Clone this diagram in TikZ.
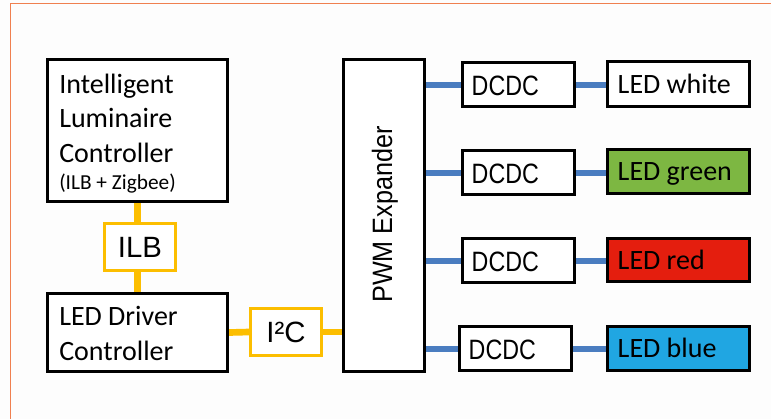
\documentclass[tikz,border=0pt]{standalone}
\usepackage{fontspec}
\usepackage{graphicx}
\setmainfont{Carlito}
\newfontfamily\arialf{Liberation Sans}
\usetikzlibrary{fit,calc,backgrounds}
\definecolor{frameor}{RGB}{240,128,80}
\definecolor{busor}{RGB}{252,190,0}
\definecolor{busbl}{RGB}{74,125,192}
\definecolor{ledgreen}{RGB}{125,183,66}
\definecolor{ledred}{RGB}{228,30,14}
\definecolor{ledblue}{RGB}{32,166,226}
\definecolor{bgc}{RGB}{253,253,253}
\tikzset{
  blk/.style={draw=black, line width=2.3pt, fill=white, inner sep=0pt},
  oblk/.style={draw=busor, line width=2.3pt, fill=white, inner sep=0pt},
  obus/.style={draw=busor, line width=5pt},
  bbus/.style={draw=busbl, line width=4.5pt},
  cal/.style={font=\fontsize{21}{25}\selectfont, inner sep=0pt},
  calsm/.style={font=\fontsize{16}{19}\selectfont, inner sep=0pt},
  ari/.style={font=\arialf\fontsize{22}{26}\selectfont, inner sep=0pt},
}
\begin{document}
\begin{tikzpicture}[x=0.75pt,y=-0.75pt]
\useasboundingbox (0,0) rectangle (771,419);
\begin{pgfonlayer}{background}
\fill[bgc] (0,0) rectangle (771,419);
\draw[frameor, line width=0.9pt] (771,3.5) -- (10.5,3.5) -- (10.5,419);
\end{pgfonlayer}

% boxes
\node[blk, fit={(47.5,59.5)(227.5,201.5)}] (ilc) {};
\node[oblk, fit={(104.5,223.5)(175.5,270.5)}] (ilb) {};
\node[blk, fit={(47.5,293.5)(227.5,371.5)}] (drv) {};
\node[oblk, fit={(250.5,308.5)(321.5,355.5)}] (i2c) {};
\node[blk, fit={(343.5,59.5)(424.5,371.5)}] (pwm) {};
\node[blk, fit={(462.5,62.5)(574.5,106.5)}] (dc1) {};
\node[blk, fit={(462.5,150.5)(574.5,194.5)}] (dc2) {};
\node[blk, fit={(462.5,238.5)(574.5,282.5)}] (dc3) {};
\node[blk, fit={(459.5,326.5)(571.5,370.5)}] (dc4) {};
\node[blk, fit={(607.5,61.5)(749.5,106.5)}] (led1) {};
\node[blk, fill=ledgreen, fit={(607.5,149.5)(749.5,193.5)}] (led2) {};
\node[blk, fill=ledred, fit={(607.5,238.5)(749.5,281.5)}] (led3) {};
\node[blk, fill=ledblue, fit={(607.5,326.5)(749.5,370.5)}] (led4) {};

% connectors
\begin{pgfonlayer}{background}
\draw[obus] (ilc.south) -- (ilc.south |- ilb.north);
\draw[obus] (ilb.south -| ilc.south) -- (ilc.south |- drv.north);
\draw[obus] (drv.east) -- (i2c.west);
\draw[obus] (i2c.east) -- (i2c.east -| pwm.west);
\draw[bbus] (dc1.west -| pwm.east) -- (dc1.west);
\draw[bbus] (dc2.west -| pwm.east) -- (dc2.west);
\draw[bbus] (dc3.west -| pwm.east) -- (dc3.west);
\draw[bbus] (dc4.west -| pwm.east) -- (dc4.west);
\draw[bbus] (dc1.east) -- (dc1.east -| led1.west);
\draw[bbus] (dc2.east) -- (dc2.east -| led2.west);
\draw[bbus] (dc3.east) -- (dc3.east -| led3.west);
\draw[bbus] (dc4.east) -- (dc4.east -| led4.west);
\end{pgfonlayer}

% texts
\node[cal, anchor=base west] (t1) at (59,93) {Intelligent};
\node[cal, anchor=base west] (t2) at (59,127) {Luminaire};
\node[cal, anchor=base west] (t3) at (59,162) {Controller};
\node[calsm, anchor=base west] (t4) at (59,189) {(ILB + Zigbee)};
\node[cal, anchor=base west] (t5) at (59,325) {LED Driver};
\node[cal, anchor=base west] (t6) at (59,360) {Controller};
\node[ari] (tilb) at (ilb.center) {ILB};
\node[ari] (ti2c) at (i2c.center) {I²C};
\node[inner sep=0pt, font=\arialf\fontsize{21}{25}\selectfont, rotate=90] (tpwm) at ($(pwm.center)+(1,-1)$) {\scalebox{0.9}[1]{PWM Expander}};
\node[inner sep=0pt, anchor=base west, font=\arialf\fontsize{21}{25}\selectfont] (td1) at ($(dc1.west)+(10.5,10.5)$) {\scalebox{0.83}[1]{DCDC}};
\node[inner sep=0pt, anchor=base west, font=\arialf\fontsize{21}{25}\selectfont] (td2) at ($(dc2.west)+(10.5,10.5)$) {\scalebox{0.83}[1]{DCDC}};
\node[inner sep=0pt, anchor=base west, font=\arialf\fontsize{21}{25}\selectfont] (td3) at ($(dc3.west)+(10.5,10.5)$) {\scalebox{0.83}[1]{DCDC}};
\node[inner sep=0pt, anchor=base west, font=\arialf\fontsize{21}{25}\selectfont] (td4) at ($(dc4.west)+(10.5,10.5)$) {\scalebox{0.83}[1]{DCDC}};
\node[cal, anchor=base west] (tl1) at ($(led1.west)+(11.5,9)$) {LED white};
\node[cal, anchor=base west] (tl2) at ($(led2.west)+(11.5,9)$) {LED green};
\node[cal, anchor=base west] (tl3) at ($(led3.west)+(11.5,9)$) {LED red};
\node[cal, anchor=base west] (tl4) at ($(led4.west)+(11.5,9)$) {LED blue};
\end{tikzpicture}
\end{document}
